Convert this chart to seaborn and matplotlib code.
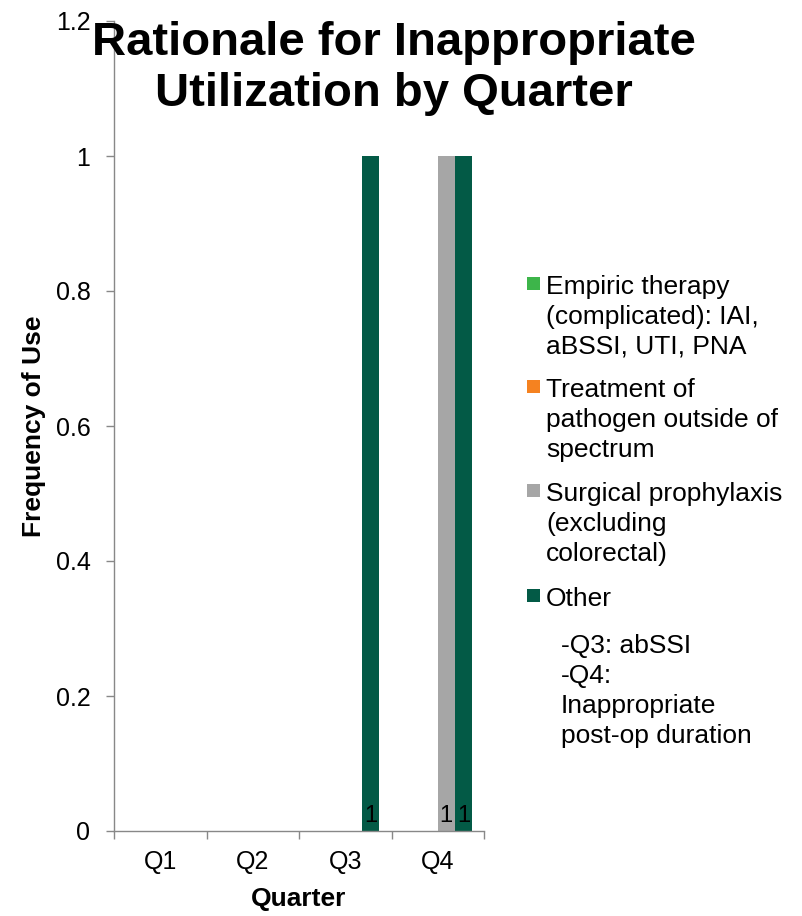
import matplotlib
matplotlib.use("Agg")
import matplotlib.pyplot as plt
from matplotlib.patches import Rectangle
import seaborn as sns
import pandas as pd

quarters = ["Q1", "Q2", "Q3", "Q4"]
rationales = [
    "Empiric therapy\n(complicated): IAI,\naBSSI, UTI, PNA",
    "Treatment of\npathogen outside of\nspectrum",
    "Surgical prophylaxis\n(excluding\ncolorectal)",
    "Other",
]
empiric = [0, 0, 0, 0]
outside_spectrum = [0, 0, 0, 0]
surgical = [0, 0, 0, 1]
other = [0, 0, 1, 1]
colors = ["#3DB54A", "#F58220", "#A6A6A6", "#035A46"]
other_note = "-Q3: abSSI\n-Q4:\nInappropriate\npost-op duration"

sns.set_theme(style="white")
plt.rcParams["font.family"] = ["Liberation Sans", "DejaVu Sans"]
plt.rcParams["text.color"] = "black"
plt.rcParams["axes.labelcolor"] = "black"

W, H = 802, 916
rows = []
for name, vals in zip(rationales, [empiric, outside_spectrum, surgical, other]):
    for q, v in zip(quarters, vals):
        rows.append({"Quarter": q, "Rationale": name, "Count": v})
df = pd.DataFrame(rows)

fig = plt.figure(figsize=(W / 100, H / 100), dpi=100)
ax = fig.add_axes([114 / W, 85 / H, 370 / W, 810 / H])

sns.barplot(data=df, x="Quarter", y="Count", hue="Rationale",
            hue_order=rationales, order=quarters, palette=colors,
            width=0.74, gap=0, saturation=1, linewidth=0, ax=ax,
            legend=False)

# value labels sit at the foot of each non-empty bar
for container in ax.containers:
    for bar in container:
        h = bar.get_height()
        if h > 0:
            ax.text(bar.get_x() + bar.get_width() / 2, 0.013, f"{h:g}",
                    ha="center", va="baseline", fontsize=17, color="black")

ax.set_ylim(0, 1.2)
ax.set_xlim(-0.5, 3.5)
ax.set_yticks([0, 0.2, 0.4, 0.6, 0.8, 1.0, 1.2])
ax.set_yticklabels(["0", "0.2", "0.4", "0.6", "0.8", "1", "1.2"])
ax.set_xticks(range(4))
ax.set_xticklabels(quarters)
ax.set_xticks([-0.5, 0.5, 1.5, 2.5, 3.5], minor=True)
ax.tick_params(axis="x", which="major", length=0, pad=14, labelsize=18,
               labelcolor="black")
ax.tick_params(axis="x", which="minor", length=6, color="#888888",
               width=1, direction="out", bottom=True)
ax.tick_params(axis="y", length=6, color="#888888", width=1,
               direction="out", left=True, labelsize=18, pad=11,
               labelcolor="black")

for side in ["top", "right"]:
    ax.spines[side].set_visible(False)
for side in ["left", "bottom"]:
    ax.spines[side].set_color("#888888")
    ax.spines[side].set_linewidth(1)

ax.set_xlabel("Quarter", fontsize=19, fontweight="bold", labelpad=9)
ax.set_ylabel("Frequency of Use", fontsize=19, fontweight="bold", labelpad=7)

fig.suptitle("Rationale for Inappropriate\nUtilization by Quarter",
             x=394 / W, y=1 - 21 / H, fontsize=34, fontweight="bold",
             linespacing=1.2, va="top", color="black")

# legend: square swatch beside the first line of each entry
leg_fs = 19
leg_ls = 1.31
entry_tops = [276, 379, 483, 588]
for top, color, label in zip(entry_tops, colors, rationales):
    fig.patches.append(Rectangle((527 / W, 1 - (top + 14) / H), 13 / W, 13 / H,
                                 transform=fig.transFigure, facecolor=color,
                                 edgecolor="none"))
    fig.text(546 / W, 1 - (top - 1) / H, label, fontsize=leg_fs,
             va="top", ha="left", linespacing=leg_ls)

fig.text(561 / W, 1 - (635 - 1) / H, other_note, fontsize=leg_fs,
         va="top", ha="left", linespacing=leg_ls)

fig.savefig("out.png", dpi=100)
